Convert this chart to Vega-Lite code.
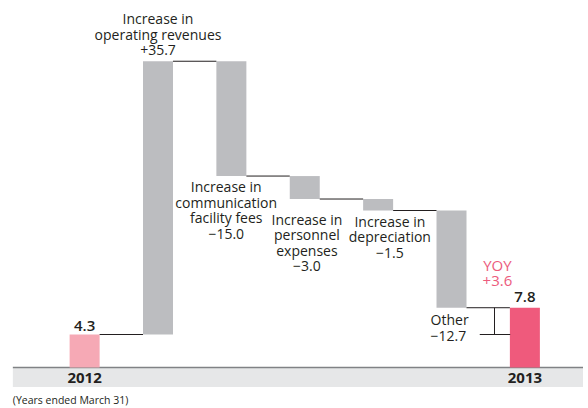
{
  "$schema": "https://vega.github.io/schema/vega-lite/v6.json",
  "width": 588,
  "height": 408,
  "padding": 0,
  "autosize": "none",
  "background": "white",
  "view": {"stroke": null},
  "config": {"font": "Open Sans"},
  "datasets": {
    "bars": [
      {"x": 0, "y": 0, "y2": 4.3, "kind": "2012"},
      {"x": 1, "y": 4.3, "y2": 40.0, "kind": "change"},
      {"x": 2, "y": 40.0, "y2": 25.0, "kind": "change"},
      {"x": 3, "y": 25.0, "y2": 22.0, "kind": "change"},
      {"x": 4, "y": 22.0, "y2": 20.5, "kind": "change"},
      {"x": 5, "y": 20.5, "y2": 7.8, "kind": "change"},
      {"x": 6, "y": 0, "y2": 7.8, "kind": "2013"}
    ],
    "connectors": [
      {"x": 0, "x2": 1, "y": 4.3},
      {"x": 1, "x2": 2, "y": 40.0},
      {"x": 2, "x2": 3, "y": 25.0},
      {"x": 3, "x2": 4, "y": 22.0},
      {"x": 4, "x2": 5, "y": 20.5},
      {"x": 5, "x2": 6, "y": 7.8}
    ],
    "bracketH": [{"x": 5.385, "x2": 5.8, "y": 4.3}],
    "bracketV": [{"x": 5.586, "y": 4.3, "y2": 7.8}],
    "band": [{"x": -0.978, "x2": 6.792, "y": 0, "y2": -2.55}],
    "axisline": [{"x": -0.978, "x2": 6.792, "y": 0}],
    "labels": [
      {"x": 1.0, "y": 44.83, "text": "Increase in\noperating revenues\n+35.7"},
      {"x": 1.93, "y": 22.88, "text": "Increase in\ncommunication\nfacility fees\n−15.0"},
      {"x": 3.03, "y": 18.61, "text": "Increase in\npersonnel\nexpenses\n−3.0"},
      {"x": 4.16, "y": 18.38, "text": "Increase in\ndepreciation\n−1.5"}
    ],
    "other": [{"x": 4.715, "y": 5.54, "text": "Other\n−12.7"}],
    "yoy": [{"x": 5.626, "y": 12.64, "text": "YOY\n+3.6"}],
    "values": [
      {"x": 0, "y": 4.8, "text": "4.3"},
      {"x": 6, "y": 8.59, "text": "7.8"}
    ],
    "years": [
      {"x": 0, "y": -2.0, "text": "2012"},
      {"x": 6, "y": -2.0, "text": "2013"}
    ],
    "footnote": [{"x": -0.978, "y": -4.78, "text": "(Years ended March 31)"}]
  },
  "encoding": {
    "x": {"field": "x", "type": "quantitative", "scale": {"domain": [-1.085, 6.792], "nice": false, "zero": false}, "axis": null},
    "y": {"field": "y", "type": "quantitative", "scale": {"domain": [-5.3, 48], "nice": false, "zero": false}, "axis": null}
  },
  "layer": [
    {
      "data": {"name": "band"},
      "mark": {"type": "rect", "color": "#e6e7e8"},
      "encoding": {"x2": {"field": "x2"}, "y2": {"field": "y2"}}
    },
    {
      "data": {"name": "axisline"},
      "mark": {"type": "rule", "color": "#808285", "strokeWidth": 1.5},
      "encoding": {"x2": {"field": "x2"}}
    },
    {
      "data": {"name": "bars"},
      "mark": {"type": "bar", "size": 30},
      "encoding": {
        "y2": {"field": "y2"},
        "color": {"field": "kind", "type": "nominal", "scale": {"domain": ["2012", "change", "2013"], "range": ["#f6a9b5", "#bcbdc0", "#ef5a7c"]}, "legend": null}
      }
    },
    {
      "data": {"name": "connectors"},
      "mark": {"type": "rule", "color": "#231f20", "strokeWidth": 1, "xOffset": 15, "x2Offset": -15},
      "encoding": {"x2": {"field": "x2"}}
    },
    {
      "data": {"name": "bracketH"},
      "mark": {"type": "rule", "color": "#231f20", "strokeWidth": 1},
      "encoding": {"x2": {"field": "x2"}}
    },
    {
      "data": {"name": "bracketV"},
      "mark": {"type": "rule", "color": "#231f20", "strokeWidth": 1},
      "encoding": {"y2": {"field": "y2"}}
    },
    {
      "data": {"name": "labels"},
      "mark": {"type": "text", "fontSize": 14, "lineBreak": "\n", "lineHeight": 15.5, "align": "center", "baseline": "alphabetic", "color": "#231f20"},
      "encoding": {"text": {"field": "text"}}
    },
    {
      "data": {"name": "other"},
      "mark": {"type": "text", "fontSize": 14, "lineBreak": "\n", "lineHeight": 15.5, "align": "left", "baseline": "alphabetic", "color": "#231f20"},
      "encoding": {"text": {"field": "text"}}
    },
    {
      "data": {"name": "yoy"},
      "mark": {"type": "text", "fontSize": 15, "lineBreak": "\n", "lineHeight": 15, "align": "center", "baseline": "alphabetic", "color": "#ec5b7d"},
      "encoding": {"text": {"field": "text"}}
    },
    {
      "data": {"name": "values"},
      "mark": {"type": "text", "fontSize": 15, "fontWeight": 600, "align": "center", "baseline": "alphabetic", "color": "#231f20"},
      "encoding": {"text": {"field": "text"}}
    },
    {
      "data": {"name": "years"},
      "mark": {"type": "text", "fontSize": 15, "fontWeight": "bold", "align": "center", "baseline": "alphabetic", "color": "#231f20"},
      "encoding": {"text": {"field": "text"}}
    },
    {
      "data": {"name": "footnote"},
      "mark": {"type": "text", "fontSize": 10.5, "align": "left", "baseline": "alphabetic", "color": "#231f20"},
      "encoding": {"text": {"field": "text"}}
    }
  ]
}
